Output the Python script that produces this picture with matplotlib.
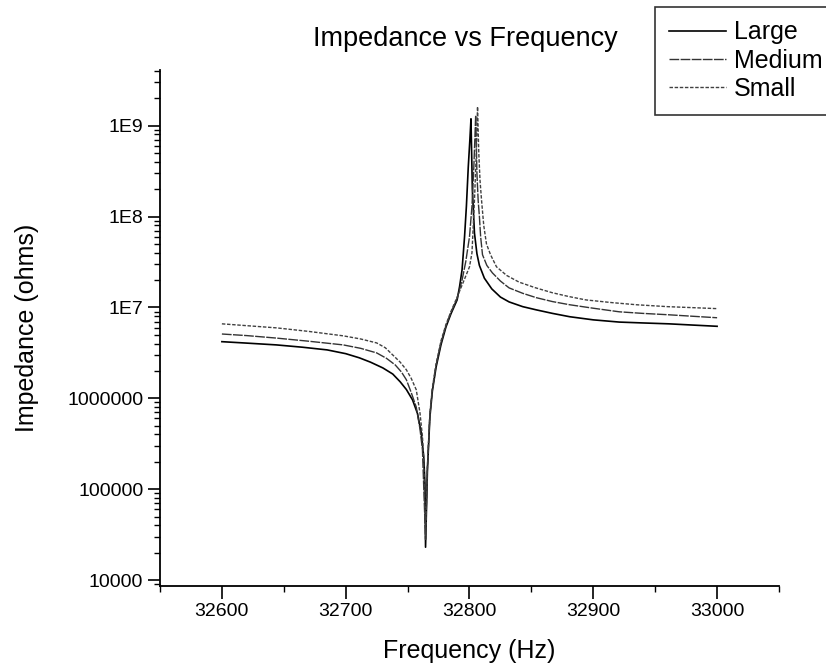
import matplotlib
matplotlib.use("Agg")
import matplotlib.pyplot as plt
from matplotlib.ticker import MultipleLocator, LogLocator, NullFormatter

plt.rcParams["font.family"] = ["Liberation Sans", "DejaVu Sans"]

# values (frequency in Hz, impedance in ohms)
f_large = [32600, 32620, 32644, 32665, 32685, 32700, 32711, 32720, 32730,
           32738, 32744, 32749, 32754, 32758, 32761, 32763, 32764, 32764.5,
           32766, 32768, 32770, 32773, 32777, 32781, 32785, 32790, 32792,
           32794, 32796, 32797.5, 32799, 32800.3, 32801.2, 32802.3, 32804,
           32806, 32808, 32812, 32818, 32825, 32832, 32843, 32854, 32867,
           32881, 32900, 32921, 32940, 32961, 32980, 33000]
z_large = [4.2e6, 4.05e6, 3.87e6, 3.65e6, 3.41e6, 3.1e6, 2.79e6, 2.5e6,
           2.16e6, 1.85e6, 1.52e6, 1.25e6, 9.6e5, 6.8e5, 4.2e5, 2.3e5,
           1.17e5, 2.3e4, 1.6e5, 6.2e5, 1.2e6, 2.2e6, 3.9e6, 6.1e6, 8.5e6,
           1.21e7, 1.7e7, 2.6e7, 6.0e7, 1.3e8, 3.5e8, 7.0e8, 1.19e9, 2.0e8,
           6.6e7, 3.9e7, 2.9e7, 2.1e7, 1.6e7, 1.3e7, 1.15e7, 1.02e7, 9.4e6,
           8.6e6, 7.9e6, 7.3e6, 6.9e6, 6.75e6, 6.6e6, 6.4e6, 6.2e6]

f_medium = [32600, 32620, 32644, 32670, 32698, 32712, 32725, 32733, 32740,
            32745, 32749, 32753, 32757, 32760, 32762, 32764.5, 32766, 32768,
            32770, 32773, 32777, 32781, 32785, 32790, 32794, 32797, 32800,
            32802, 32803.5, 32804.3, 32805, 32806, 32807, 32808, 32809,
            32810.5, 32814, 32818.5, 32825, 32832, 32843, 32854, 32867,
            32881, 32900, 32921, 32940, 32961, 32980, 33000]
z_medium = [5.1e6, 4.9e6, 4.6e6, 4.25e6, 3.87e6, 3.55e6, 3.16e6, 2.75e6,
            2.33e6, 1.95e6, 1.6e6, 1.15e6, 8.0e5, 4.6e5, 2.7e5, 2.8e4,
            1.7e5, 6.5e5, 1.25e6, 2.3e6, 4.1e6, 6.3e6, 8.8e6, 1.25e7, 2.0e7,
            3.2e7, 6.0e7, 1.3e8, 3.5e8, 7.0e8, 1.3e9, 3.0e8, 1.5e8, 1.0e8,
            6.0e7, 3.8e7, 2.9e7, 2.4e7, 1.95e7, 1.64e7, 1.43e7, 1.28e7,
            1.16e7, 1.07e7, 9.8e6, 8.95e6, 8.6e6, 8.3e6, 8.0e6, 7.7e6]

f_small = [32600, 32620, 32644, 32670, 32698, 32712, 32725, 32732, 32738,
           32744, 32749, 32753, 32757, 32760, 32762, 32763, 32764.5, 32766,
           32768, 32770, 32773, 32777, 32781, 32785, 32790, 32795, 32800,
           32802, 32804, 32805.5, 32806.5, 32807.5, 32808.5, 32809.7,
           32811.5, 32813.7, 32817, 32821.8, 32830, 32840, 32853, 32867,
           32880, 32894, 32915, 32935, 32960, 32980, 33000]
z_small = [6.6e6, 6.3e6, 5.96e6, 5.45e6, 4.87e6, 4.5e6, 4.07e6, 3.6e6,
           3.0e6, 2.5e6, 2.06e6, 1.65e6, 1.24e6, 6.9e5, 3.8e5, 2.1e5, 3.1e4,
           1.8e5, 6.8e5, 1.3e6, 2.4e6, 4.3e6, 6.5e6, 9.0e6, 1.3e7, 1.9e7,
           2.8e7, 4.0e7, 1.5e8, 5.0e8, 1.62e9, 5.0e8, 2.5e8, 1.53e8, 8.0e7,
           5.0e7, 3.8e7, 2.8e7, 2.25e7, 1.9e7, 1.65e7, 1.45e7, 1.32e7,
           1.21e7, 1.13e7, 1.07e7, 1.02e7, 9.95e6, 9.7e6]

y_ticks = [1e4, 1e5, 1e6, 1e7, 1e8, 1e9]
y_labels = ["10000", "100000", "1000000", "1E7", "1E8", "1E9"]
x_ticks = [32600, 32700, 32800, 32900, 33000]

fig = plt.figure(figsize=(8.26, 6.66), dpi=100)
ax = fig.add_axes([0.1937, 0.1201, 0.7494, 0.7748])

l1, = ax.plot(f_large, z_large, color="black", lw=1.2)
l2, = ax.plot(f_medium, z_medium, color="0.2", lw=1.0, dashes=(7, 1))
l3, = ax.plot(f_small, z_small, color="0.25", lw=1.0, dashes=(2.5, 1.2))

ax.set_yscale("log")
ax.set_xlim(32550, 33050)
ax.set_ylim(8.6e3, 4.1e9)
ax.set_yticks(y_ticks)
ax.set_yticklabels(y_labels)
ax.yaxis.set_minor_locator(LogLocator(base=10, subs=range(2, 10), numticks=20))
ax.yaxis.set_minor_formatter(NullFormatter())
ax.set_xticks(x_ticks)
ax.set_xticklabels([str(t) for t in x_ticks])
ax.xaxis.set_minor_locator(MultipleLocator(50))

for side in ("top", "right"):
    ax.spines[side].set_visible(False)
for side in ("left", "bottom"):
    ax.spines[side].set_linewidth(1.3)
ax.tick_params(which="major", direction="out", length=9, width=1.2,
               labelsize=14, pad=3)
ax.tick_params(which="minor", direction="out", length=4.5, width=1.0)

ax.set_xlabel("Frequency (Hz)", fontsize=18, labelpad=14)
ax.set_ylabel("Impedance (ohms)", fontsize=18, labelpad=20)
ax.set_title("Impedance vs Frequency", fontsize=19.5, pad=17, x=0.493)

# box runs off the right edge in the reference
leg = fig.legend([l1, l2, l3], ["Large", "Medium", "Small"],
                 loc="upper right", bbox_to_anchor=(1.012, 0.99),
                 fontsize=18, frameon=True, fancybox=False,
                 handlelength=2.3, handletextpad=0.3, labelspacing=0.17,
                 borderpad=0.55, borderaxespad=0)
leg.get_frame().set_edgecolor("black")
leg.get_frame().set_linewidth(1.2)

fig.savefig("out.png", dpi=100)
